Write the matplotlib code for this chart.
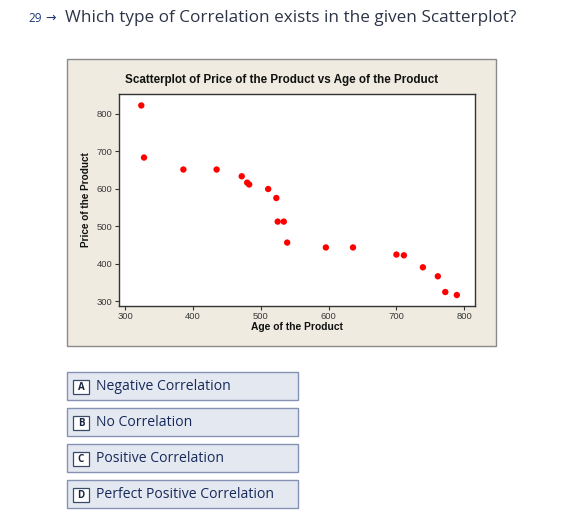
import matplotlib.pyplot as plt
from matplotlib.patches import Rectangle

age = [324, 328, 386, 435, 472, 480, 483, 511, 523, 525, 534, 539,
       596, 636, 700, 711, 739, 761, 772, 789]
price = [822, 683, 651, 651, 633, 616, 611, 599, 575, 512, 512, 456,
         443, 443, 424, 422, 390, 366, 324, 316]

x_ticks = [300, 400, 500, 600, 700, 800]
y_ticks = [300, 400, 500, 600, 700, 800]

question = "Which type of Correlation exists in the given Scatterplot?"
letters = ["A", "B", "C", "D"]
options = ["Negative Correlation", "No Correlation",
           "Positive Correlation", "Perfect Positive Correlation"]

W, H = 584, 512
fig = plt.figure(figsize=(W / 100, H / 100), dpi=100)
fig.patch.set_facecolor("white")


def box(x0, y0, x1, y1):
    # pixel box (top-left origin) -> figure fraction rect
    return [x0 / W, 1 - y1 / H, (x1 - x0) / W, (y1 - y0) / H]


def fx(x):
    return x / W


def fy(y):
    return 1 - y / H


# question line
fig.text(fx(28), fy(19), "29", fontsize=8.5, color="#1f3a7a",
         family="Open Sans", va="center")
fig.text(fx(45), fy(18.5), "\u2192", fontsize=9, color="#1f3a7a",
         family="DejaVu Sans", va="center")
fig.text(fx(65), fy(18), question, fontsize=12.3, color="#2e3448",
         family="Open Sans", va="center")

# beige chart panel
r = box(67, 59, 496, 346)
fig.patches.append(Rectangle((r[0], r[1]), r[2], r[3], transform=fig.transFigure,
                             facecolor="#efebe1", edgecolor="#8a8a8a", lw=1,
                             zorder=-5))
# title sits centred on the panel, not on the plot area
fig.text(fx(281.5), fy(80), "Scatterplot of Price of the Product vs Age of the Product",
         fontsize=8.4, fontweight="bold", family="Liberation Sans",
         color="#111111", ha="center", va="center")

ax = fig.add_axes(box(118.7, 94, 475, 305.7))
ax.set_facecolor("white")
ax.scatter(age, price, s=21, color="#ff0000", edgecolors="none", zorder=3)
ax.set_xlim(290.7, 815.8)
ax.set_ylim(287.5, 852.6)
ax.set_xticks(x_ticks)
ax.set_yticks(y_ticks)
for sp in ax.spines.values():
    sp.set_color("#333333")
    sp.set_linewidth(1)
ax.tick_params(direction="out", length=3, width=0.8, color="#333333",
               labelsize=6.8, labelcolor="#3a3a3a", pad=1.5)
for lab in ax.get_xticklabels() + ax.get_yticklabels():
    lab.set_family("Liberation Sans")
ax.set_xlabel("Age of the Product", fontsize=7.4, fontweight="bold",
              family="Liberation Sans", labelpad=1, color="#111111")
ax.set_ylabel("Price of the Product", fontsize=7.2, fontweight="bold",
              family="Liberation Sans", labelpad=4, color="#111111")

# answer options
for i, (let, opt) in enumerate(zip(letters, options)):
    top = 371.7 + i * 36
    r = box(66.7, top, 298, top + 28.5)
    fig.patches.append(Rectangle((r[0], r[1]), r[2], r[3], transform=fig.transFigure,
                                 facecolor="#e4e8f0", edgecolor="#8592b3", lw=1))
    r = box(72.7, top + 8.3, 89.3, top + 22.6)
    fig.patches.append(Rectangle((r[0], r[1]), r[2], r[3], transform=fig.transFigure,
                                 facecolor="white", edgecolor="#3a4a6a", lw=0.9))
    fig.text(fx(81), fy(top + 15.3), let, fontsize=7, fontweight="bold",
             color="#1a2540", family="Open Sans", ha="center", va="center")
    fig.text(fx(96.5), fy(top + 15), opt, fontsize=10.1, color="#16295a",
             family="Open Sans", va="center")

fig.savefig("out.png", dpi=100)
